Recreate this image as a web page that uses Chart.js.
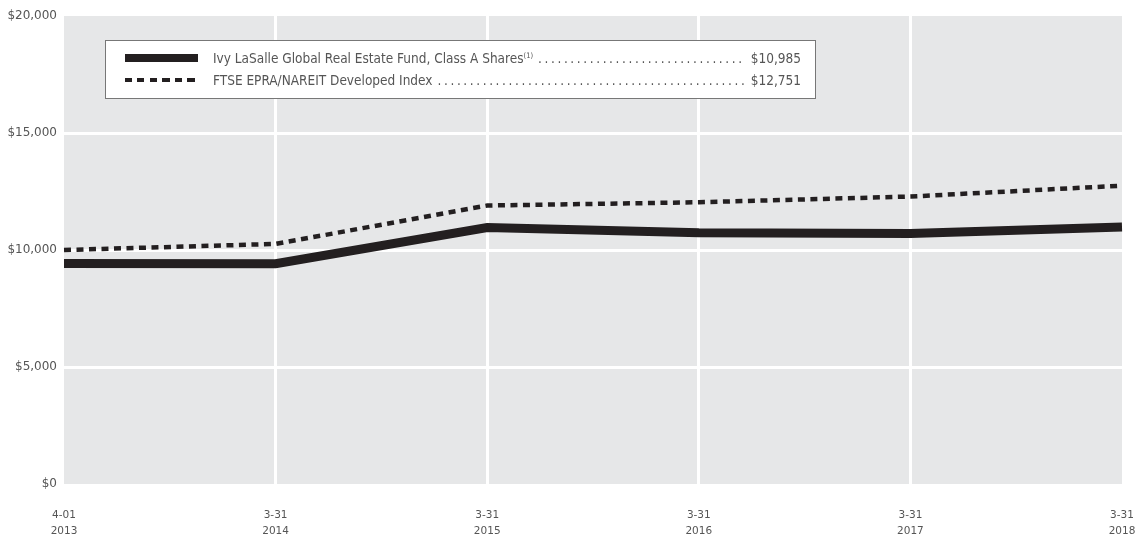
<!DOCTYPE html>
<html>
<head>
<meta charset="utf-8">
<script src="https://cdn.jsdelivr.net/npm/chart.js@4"></script>
<style>
  html, body { margin: 0; padding: 0; background: #fff; }
  #wrap { position: relative; width: 1135px; height: 538px; }
  canvas { display: block; }
  .legend {
    position: absolute; left: 105px; top: 40px; width: 711px; height: 59px;
    background: #fff; border: 1.5px solid #777; box-sizing: border-box;
    font-family: 'DejaVu Sans', sans-serif; font-stretch: condensed;
    font-size: 13.5px; color: #555; will-change: transform;
  }
  .row { position: absolute; left: 19px; right: 14px; height: 16px; display: flex; align-items: center; }
  .swatch { width: 73px; flex: none; margin-right: 15px; }
  .label { flex: none; white-space: nowrap; }
  .dots { flex: 1; overflow: hidden; white-space: nowrap; margin: 0 5px; letter-spacing: 2.6px; }
  .val { flex: none; }
  sup { font-size: 7.5px; vertical-align: 5px; }
</style>
</head>
<body>
<div id="wrap">
  <canvas id="chart" width="1135" height="538"></canvas>
  <div class="legend" id="legend"></div>
</div>
<script>
// ===== data
const dates = [["4-01", "2013"], ["3-31", "2014"], ["3-31", "2015"], ["3-31", "2016"], ["3-31", "2017"], ["3-31", "2018"]];
const fundValues = [9425, 9410, 10960, 10735, 10710, 10985];
const indexValues = [10000, 10260, 11900, 12040, 12285, 12751];
const seriesNames = ["Ivy LaSalle Global Real Estate Fund, Class A Shares", "FTSE EPRA/NAREIT Developed Index"];
const yTicks = [0, 5000, 10000, 15000, 20000];

const font = "'DejaVu Sans', sans-serif";
const money = v => "$" + v.toLocaleString("en-US");

// grey plot background
const plotBg = {
  id: "plotBg",
  beforeDraw(chart) {
    const { ctx, chartArea: a } = chart;
    ctx.save();
    ctx.fillStyle = "#e6e7e8";
    ctx.fillRect(a.left, a.top, a.right - a.left, a.bottom - a.top);
    ctx.restore();
  }
};

new Chart(document.getElementById("chart"), {
  type: "line",
  data: {
    labels: dates,
    datasets: [
      {
        label: seriesNames[1],
        data: indexValues,
        borderColor: "#231f20",
        borderWidth: 4.5,
        borderDash: [7, 5.5],
        pointRadius: 0,
        tension: 0
      },
      {
        label: seriesNames[0],
        data: fundValues,
        borderColor: "#231f20",
        borderWidth: 9,
        pointRadius: 0,
        tension: 0
      }
    ]
  },
  options: {
    responsive: false,
    animation: false,
    layout: { padding: { top: 16, right: 13, left: 0, bottom: 0 } },
    plugins: { legend: { display: false }, tooltip: { enabled: false } },
    scales: {
      x: {
        offset: false,
        border: { display: false },
        grid: {
          color: c => (c.index === 0 || c.index === dates.length - 1) ? "rgba(0,0,0,0)" : "#ffffff",
          lineWidth: 3,
          drawTicks: false
        },
        ticks: {
          maxRotation: 0,
          autoSkip: false,
          padding: 23,
          color: "#555",
          font: { family: font, style: "condensed", size: 10.5, lineHeight: 1.55 }
        },
        afterFit: s => { s.height = 54; s.paddingLeft = 0; s.paddingRight = 0; }
      },
      y: {
        min: 0,
        max: 20000,
        border: { display: false },
        afterBuildTicks: s => { s.ticks = yTicks.map(v => ({ value: v })); },
        grid: {
          color: c => (c.tick && (c.tick.value === 0 || c.tick.value === 20000)) ? "rgba(0,0,0,0)" : "#ffffff",
          lineWidth: 3,
          drawTicks: false
        },
        ticks: {
          padding: 7,
          color: "#555",
          font: { family: font, style: "condensed", size: 12 },
          callback: v => money(v)
        },
        afterFit: s => { s.width = 64; }
      }
    }
  },
  plugins: [plotBg]
});

// ===== legend box with dot leaders
const legend = document.getElementById("legend");
const rows = [
  { name: seriesNames[0] + "<sup>(1)</sup>", value: fundValues[fundValues.length - 1], swatch: "border-top: 8px solid #231f20;", top: 9 },
  { name: seriesNames[1], value: indexValues[indexValues.length - 1], swatch: "height:4.5px; background: repeating-linear-gradient(90deg, #231f20 0 7px, transparent 7px 12.5px);", top: 31 }
];
rows.forEach(r => {
  const div = document.createElement("div");
  div.className = "row";
  div.style.top = r.top + "px";
  div.innerHTML = `
    <div class="swatch" style="${r.swatch}"></div>
    <span class="label">${r.name}</span>
    <span class="dots">${".".repeat(200)}</span>
    <span class="val">${money(r.value)}</span>`;
  legend.appendChild(div);
});
</script>
</body>
</html>
